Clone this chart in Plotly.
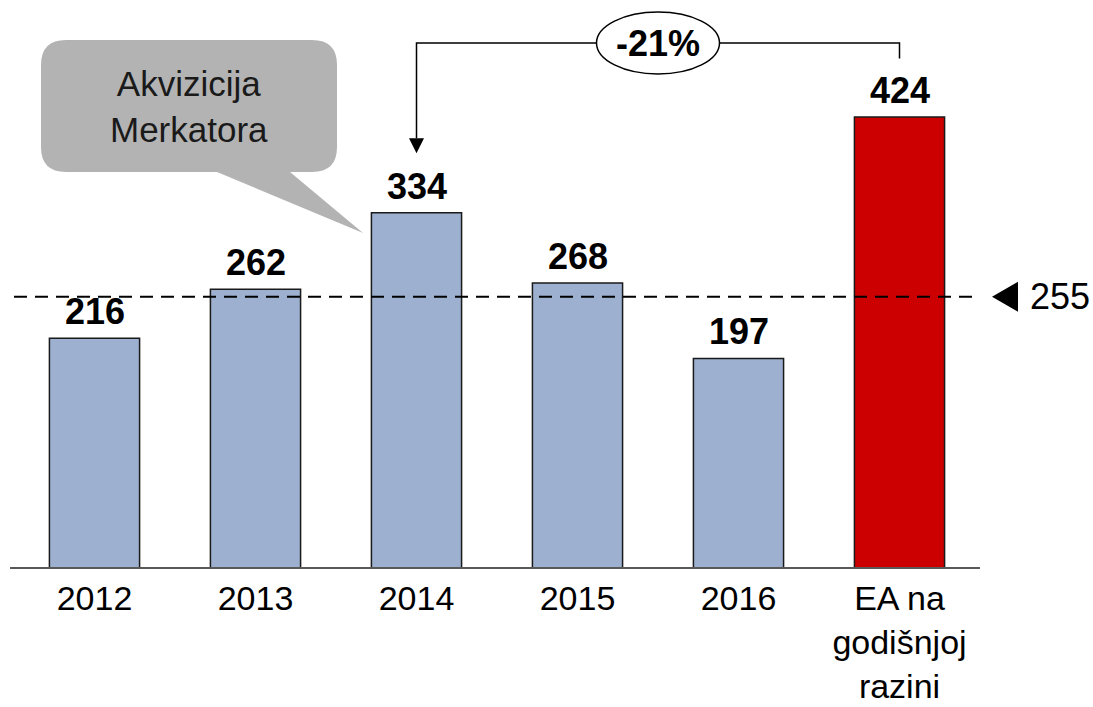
import plotly.graph_objects as go

# ---------------- data ----------------
categories = ["2012", "2013", "2014", "2015", "2016", "EA na<br>godišnjoj<br>razini"]
values = [216, 262, 334, 268, 197, 424]
bar_colors = ["#9DB0CF", "#9DB0CF", "#9DB0CF", "#9DB0CF", "#9DB0CF", "#CC0000"]
reference_value = 255
reference_label = "255"
change_label = "-21%"
change_from_idx = 5
change_to_idx = 2
callout_text = "Akvizicija<br>Merkatora"

# ---------------- layout geometry ----------------
W, H = 1093, 707
L, R, T, B = 14, 113, 10, 139
plot_w = W - L - R
plot_h = H - T - B
px_per_unit = 1.0637
y_top = plot_h / px_per_unit
n = len(categories)
cat_px = plot_w / n
FONT = "Liberation Sans, Arial, sans-serif"


def xd(px):
    return (px - L) / cat_px - 0.5


def yd(py):
    return (H - B - py) / px_per_unit


fig = go.Figure()
fig.add_trace(go.Bar(
    x=list(range(n)), y=values, width=0.56,
    marker=dict(color=bar_colors, line=dict(color="#1a1a1a", width=1.5)),
    hoverinfo="skip",
))

shapes = []
annotations = []

# baseline
shapes.append(dict(type="line", xref="paper", yref="paper",
                   x0=(10 - L) / plot_w, x1=1.0, y0=0, y1=0,
                   line=dict(color="#595959", width=2), layer="above"))

# reference dashed line
shapes.append(dict(type="line", xref="x", yref="y",
                   x0=-0.5, x1=n - 0.5, y0=reference_value, y1=reference_value,
                   line=dict(color="#000000", width=2, dash="13px,8px"), layer="above"))
# triangle marker for reference
ry = reference_value / y_top
tx0 = (992 - L) / plot_w
tx1 = (1018 - L) / plot_w
th = 15 / plot_h
shapes.append(dict(type="path", xref="paper", yref="paper",
                   path=f"M {tx0},{ry} L {tx1},{ry + th} L {tx1},{ry - th} Z",
                   fillcolor="#000000", line=dict(width=0)))
annotations.append(dict(xref="paper", yref="y", x=(1028 - L) / plot_w, y=reference_value,
                        xanchor="left", yanchor="middle", text=reference_label, showarrow=False,
                        font=dict(family=FONT, size=36, color="#000000")))

# bracket arrow from EA to 2014
y_line = yd(43)
y_end_from = values[change_from_idx] + 55
y_tip = values[change_to_idx] + 56
head_h = 15 / px_per_unit
head_w = 7.5 / cat_px
shapes.append(dict(type="path", xref="x", yref="y",
                   path=(f"M {change_from_idx},{y_end_from} V {y_line} H {change_to_idx} "
                         f"V {y_tip + head_h}"),
                   line=dict(color="#000000", width=1.5)))
shapes.append(dict(type="path", xref="x", yref="y",
                   path=(f"M {change_to_idx - head_w},{y_tip + head_h} L {change_to_idx + head_w},{y_tip + head_h} "
                         f"L {change_to_idx},{y_tip} Z"),
                   fillcolor="#000000", line=dict(width=0)))
# ellipse with change label
ex_c = (change_from_idx + change_to_idx) / 2
ew = 61.5 / cat_px
eh = 31 / px_per_unit
shapes.append(dict(type="circle", xref="x", yref="y",
                   x0=ex_c - ew, x1=ex_c + ew, y0=y_line - eh, y1=y_line + eh,
                   fillcolor="#FFFFFF", line=dict(color="#000000", width=1.5)))
annotations.append(dict(xref="x", yref="y", x=ex_c, y=y_line, text=f"<b>{change_label}</b>",
                        showarrow=False, xanchor="center", yanchor="middle",
                        font=dict(family=FONT, size=36, color="#000000")))

# callout bubble
bx0, bx1 = xd(41), xd(337)
by1, by0 = yd(40), yd(172)
rx = 25 / cat_px
rr = 25 / px_per_unit
ta, tb = xd(217), xd(290)
tip_x, tip_y = xd(363), yd(233)
callout_path = (
    f"M {bx0 + rx},{by1} H {bx1 - rx} Q {bx1},{by1} {bx1},{by1 - rr} "
    f"V {by0 + rr} Q {bx1},{by0} {bx1 - rx},{by0} H {tb} L {tip_x},{tip_y} L {ta},{by0} "
    f"H {bx0 + rx} Q {bx0},{by0} {bx0},{by0 + rr} V {by1 - rr} Q {bx0},{by1} {bx0 + rx},{by1} Z"
)
shapes.append(dict(type="path", xref="x", yref="y", path=callout_path,
                   fillcolor="#B3B3B3", line=dict(width=0)))
annotations.append(dict(xref="x", yref="y", x=(bx0 + bx1) / 2, y=(by0 + by1) / 2,
                        text=callout_text, showarrow=False, xanchor="center", yanchor="middle",
                        font=dict(family=FONT, size=35, color="#1a1a1a")))

# value labels
for i, v in enumerate(values):
    annotations.append(dict(xref="x", yref="y", x=i, y=v, text=f"<b>{v}</b>",
                            showarrow=False, xanchor="center", yanchor="bottom", yshift=4,
                            font=dict(family=FONT, size=36, color="#000000")))

fig.update_layout(
    width=W, height=H,
    margin=dict(l=L, r=R, t=T, b=B, pad=0, autoexpand=False),
    paper_bgcolor="white", plot_bgcolor="white",
    showlegend=False, bargap=0.44,
    shapes=shapes, annotations=annotations,
    xaxis=dict(range=[-0.5, n - 0.5], tickvals=list(range(n)), ticktext=categories,
               showgrid=False, zeroline=False, showline=False, ticks="",
               ticklabelstandoff=7, automargin=False,
               tickfont=dict(family=FONT, size=34, color="#000000"), fixedrange=True),
    yaxis=dict(range=[0, y_top], visible=False, fixedrange=True, automargin=False),
)

fig.write_html("out.html", config={"displayModeBar": False},
               post_script="document.body.style.margin='0';document.body.style.overflow='hidden';")
